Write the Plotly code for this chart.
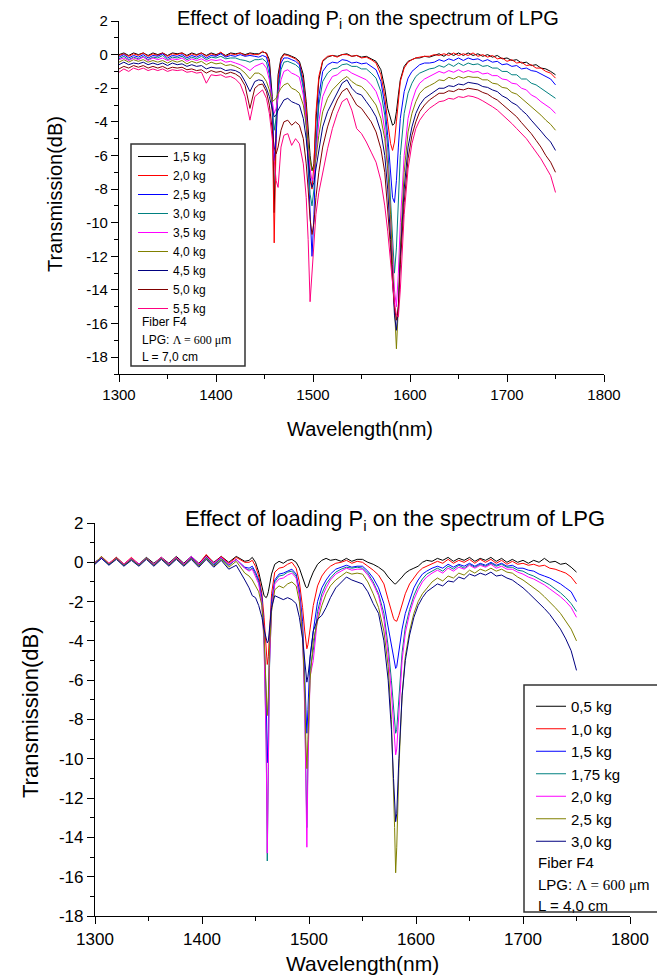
import plotly.graph_objects as go

# ---------------- top panel: L = 7,0 cm ----------------
WL_TOP = [1300, 1305, 1310, 1315, 1320, 1325, 1330, 1335, 1340, 1345, 1350, 1355, 1360, 1365, 1370,
          1375, 1380, 1385, 1390, 1395, 1400, 1405, 1410, 1415, 1420, 1425, 1430, 1435, 1440,
          1444, 1448, 1452, 1455, 1458, 1460, 1462, 1464, 1467, 1470, 1474, 1478, 1482, 1486, 1490,
          1493, 1495, 1497, 1499, 1501, 1503, 1506, 1510, 1515, 1520, 1525, 1530, 1535, 1540, 1545,
          1550, 1555, 1560, 1565, 1570, 1574, 1577, 1580, 1582, 1584, 1586, 1588, 1590, 1594, 1598,
          1602, 1606, 1610, 1615, 1620,
          1625, 1630, 1635, 1640, 1645, 1650, 1655, 1660, 1665, 1670, 1675, 1680, 1685, 1690, 1695,
          1700, 1705, 1710, 1715, 1720, 1725, 1730, 1735, 1740, 1745, 1750]

LOADS_TOP = ["1,5 kg", "2,0 kg", "2,5 kg", "3,0 kg", "3,5 kg", "4,0 kg", "4,5 kg", "5,0 kg", "5,5 kg"]

T_15 = [0.0, 0.1, -0.05, 0.1, 0.0, 0.1, -0.05, 0.1, 0.0, 0.1, -0.05, 0.1, 0.05, 0.1, -0.05, 0.1, 0.0, 0.1, -0.05, 0.1, 0.0, 0.1, -0.05, 0.1, 0.05, 0.1, 0.0, 0.1, 0.05,
        0.05, 0.15, 0.1, -0.3, -2.5, -9.4, -4.0, -1.2, -0.2, 0.05, 0.0, -0.1, -0.2, -0.4, -1.2, -2.8, -4.5, -6.0, -6.9, -6.5,
        -4.0, -1.5, -0.4, -0.15, -0.05, -0.1, 0.0, 0.05, -0.1, -0.05, -0.15, -0.1, -0.25, -0.4, -0.9, -2.0, -3.2, -3.9, -4.2, -4.1,
        -3.4, -2.4, -1.5, -0.7, -0.4, -0.3, -0.2, -0.2, -0.1, -0.15,
        -0.05, 0.05, -0.1, 0.1, -0.05, 0.1, -0.05, 0.1, -0.05, 0.05, -0.1, 0.0, -0.15, -0.05, -0.25, -0.2, -0.35, -0.3, -0.5, -0.45, -0.65, -0.6, -0.8, -0.85, -1.0, -1.2]
T_20 = [-0.05, 0.05, -0.1, 0.05, -0.05, 0.1, -0.1, 0.05, -0.05, 0.1, -0.1, 0.05, 0.0, 0.1, -0.1, 0.05, -0.05, 0.1, -0.1, 0.05, -0.05, 0.15, -0.1, 0.05, 0.0, 0.1, -0.05, 0.05, 0.0,
        0.0, 0.2, 0.05, -0.5, -3.5, -11.2, -5.0, -1.5, -0.3, 0.0, -0.05, -0.15, -0.25, -0.5, -1.5, -3.2, -5.2, -7.5, -8.0, -6.5,
        -3.5, -1.3, -0.35, -0.1, -0.05, -0.15, 0.0, 0.0, -0.1, -0.05, -0.2, -0.15, -0.3, -0.5, -1.2, -2.5, -4.0, -5.3, -5.7, -5.2,
        -4.0, -2.6, -1.6, -0.8, -0.45, -0.3, -0.2, -0.15, -0.1, -0.1,
        0.0, -0.05, 0.05, -0.05, 0.1, -0.05, 0.05, -0.05, 0.1, -0.1, 0.0, -0.15, -0.05, -0.25, -0.2, -0.4, -0.3, -0.5, -0.45, -0.65, -0.6, -0.8, -0.8, -1.0, -1.1, -1.4]
T_25 = [-0.15, 0.0, -0.2, -0.05, -0.15, 0.0, -0.2, -0.05, -0.1, 0.05, -0.2, -0.05, -0.1, 0.0, -0.2, -0.05, -0.15, 0.0, -0.2, -0.05, -0.1, 0.05, -0.15, -0.05, -0.1, 0.0, -0.1, -0.05, -0.1,
        -0.15, -0.05, -0.15, -0.8, -3.0, -6.3, -5.0, -2.0, -0.5, -0.2, -0.2, -0.3, -0.4, -0.6, -1.8, -4.0, -7.0, -10.0, -12.0, -9.5,
        -5.5, -2.5, -1.0, -0.6, -0.45, -0.5, -0.3, -0.35, -0.5, -0.45, -0.55, -0.5, -0.7, -0.9, -1.6, -3.0, -4.8, -7.0, -8.5, -8.8,
        -7.5, -5.5, -3.8, -2.2, -1.4, -1.0, -0.8, -0.6, -0.5, -0.5,
        -0.45, -0.3, -0.4, -0.25, -0.35, -0.2, -0.35, -0.2, -0.3, -0.25, -0.4, -0.3, -0.45, -0.4, -0.6, -0.55, -0.7, -0.65, -0.85, -0.8, -0.95, -1.0, -1.15, -1.3, -1.45, -1.8]
T_30 = [-0.25, -0.1, -0.3, -0.15, -0.25, -0.1, -0.3, -0.15, -0.2, -0.05, -0.3, -0.15, -0.2, -0.1, -0.3, -0.15, -0.25, -0.1, -0.3, -0.15, -0.2, -0.1, -0.25, -0.2, -0.2, -0.3, -0.35, -0.45, -0.3,
        -0.3, -0.25, -0.45, -1.2, -3.2, -4.5, -3.8, -2.2, -0.9, -0.45, -0.4, -0.5, -0.6, -0.8, -2.0, -4.2, -6.5, -8.3, -9.0, -8.0,
        -5.5, -3.0, -1.6, -1.1, -0.85, -0.8, -0.6, -0.55, -0.7, -0.7, -0.85, -0.85, -1.1, -1.4, -2.2, -3.6, -5.5, -8.5, -11.0, -13.0,
        -11.5, -8.5, -6.0, -3.5, -2.3, -1.7, -1.3, -1.1, -0.95, -0.85,
        -0.8, -0.65, -0.75, -0.55, -0.7, -0.5, -0.65, -0.5, -0.6, -0.55, -0.7, -0.65, -0.8, -0.8, -1.0, -1.0, -1.2, -1.2, -1.45, -1.45, -1.7, -1.8, -2.0, -2.2, -2.35, -2.6]
T_35 = [-0.3, -0.2, -0.35, -0.2, -0.3, -0.15, -0.35, -0.2, -0.3, -0.2, -0.35, -0.25, -0.3, -0.2, -0.4, -0.25, -0.35, -0.25, -0.4, -0.3, -0.35, -0.3, -0.45, -0.4, -0.5, -0.6, -0.75, -0.95, -0.7,
        -0.6, -0.5, -0.8, -1.5, -2.8, -3.5, -3.2, -2.5, -1.5, -1.0, -0.9, -1.1, -1.2, -1.35, -2.4, -4.0, -5.5, -6.8, -7.5, -7.3,
        -6.0, -4.0, -2.5, -1.8, -1.3, -1.2, -0.95, -0.9, -1.1, -1.25, -1.35, -1.5, -1.8, -2.2, -3.0, -4.5, -6.5, -9.5, -12.0, -14.0,
        -15.0, -13.0, -10.0, -6.0, -3.8, -2.8, -2.1, -1.7, -1.45, -1.3,
        -1.15, -1.0, -1.1, -0.95, -1.05, -0.9, -1.05, -0.95, -1.05, -1.0, -1.15, -1.1, -1.25, -1.25, -1.45, -1.5, -1.7, -1.75, -2.0, -2.1, -2.4, -2.55, -2.8, -3.0, -3.2, -3.5]
T_40 = [-0.45, -0.3, -0.45, -0.3, -0.4, -0.3, -0.45, -0.35, -0.45, -0.35, -0.5, -0.35, -0.45, -0.35, -0.55, -0.4, -0.5, -0.4, -0.6, -0.45, -0.55, -0.5, -0.65, -0.6, -0.7, -0.85, -1.1, -1.45, -1.1,
        -1.1, -1.25, -1.6, -2.1, -2.8, -2.7, -2.6, -2.3, -2.0, -1.8, -1.7, -2.0, -2.1, -2.3, -3.0, -4.2, -5.3, -6.3, -6.9, -6.8,
        -6.2, -4.8, -3.4, -2.6, -2.1, -1.8, -1.5, -1.3, -1.6, -1.8, -1.9, -2.2, -2.6, -3.0, -3.8, -5.0, -6.8, -9.5, -12.5, -15.5,
        -17.5, -15.0, -11.5, -7.0, -4.6, -3.5, -2.8, -2.3, -2.0, -1.85,
        -1.7, -1.5, -1.55, -1.35, -1.45, -1.3, -1.4, -1.3, -1.35, -1.35, -1.5, -1.5, -1.7, -1.75, -1.95, -2.0, -2.25, -2.35, -2.6, -2.8, -3.1, -3.3, -3.6, -3.9, -4.15, -4.5]
T_45 = [-0.6, -0.45, -0.6, -0.5, -0.55, -0.45, -0.6, -0.5, -0.6, -0.5, -0.65, -0.5, -0.6, -0.55, -0.7, -0.6, -0.7, -0.65, -0.85, -0.75, -0.8, -0.8, -0.95, -0.9, -0.95, -1.1, -1.6, -2.2, -1.6,
        -1.5, -1.55, -2.0, -2.5, -3.3, -3.7, -3.6, -3.3, -3.0, -2.7, -2.6, -2.8, -2.9, -3.0, -3.8, -5.0, -6.2, -7.3, -7.9, -7.6,
        -6.8, -5.6, -4.3, -3.4, -2.8, -2.2, -1.7, -1.5, -2.0, -2.3, -2.4, -2.8, -3.2, -3.7, -4.6, -6.0, -8.0, -11.0, -13.5, -15.5,
        -16.4, -15.0, -12.0, -8.0, -5.5, -4.3, -3.5, -3.0, -2.6, -2.4,
        -2.2, -2.0, -2.0, -1.85, -1.9, -1.75, -1.8, -1.65, -1.7, -1.75, -1.9, -1.95, -2.1, -2.2, -2.45, -2.6, -2.85, -3.0, -3.3, -3.55, -3.9, -4.2, -4.55, -4.9, -5.2, -5.7]
T_50 = [-0.85, -0.7, -0.8, -0.65, -0.75, -0.65, -0.8, -0.7, -0.8, -0.7, -0.85, -0.75, -0.8, -0.75, -0.9, -0.85, -0.95, -0.9, -1.1, -0.95, -1.05, -1.0, -1.15, -1.05, -1.15, -1.35, -1.85, -3.2, -2.0,
        -1.8, -1.75, -2.2, -3.0, -4.5, -5.5, -5.9, -5.5, -4.5, -4.0, -3.9, -4.2, -4.0, -4.2, -5.0, -6.5, -8.0, -9.8, -10.7, -10.0,
        -8.5, -7.0, -5.5, -4.3, -3.4, -2.7, -2.2, -2.0, -2.5, -3.0, -3.2, -3.6, -4.0, -4.6, -5.6, -7.0, -9.0, -11.5, -13.5, -15.0,
        -15.8, -15.0, -12.5, -8.8, -6.2, -4.8, -4.0, -3.4, -3.0, -2.7,
        -2.5, -2.3, -2.3, -2.15, -2.2, -2.05, -2.1, -2.0, -2.05, -2.1, -2.25, -2.35, -2.55, -2.7, -2.95, -3.2, -3.45, -3.7, -4.05, -4.35, -4.7, -5.1, -5.5, -6.0, -6.4, -7.0]
T_55 = [-1.05, -0.85, -1.0, -0.8, -0.9, -0.8, -0.95, -0.85, -0.95, -0.85, -1.0, -0.9, -0.95, -0.9, -1.05, -1.0, -1.1, -1.05, -1.7, -1.2, -1.25, -1.2, -1.35, -1.3, -1.45, -1.75, -2.5, -3.9, -2.5,
        -2.3, -2.1, -2.6, -3.5, -5.0, -6.5, -7.5, -7.9, -5.5, -4.8, -4.7, -5.4, -5.0, -5.3, -6.5, -8.5, -11.0, -14.7, -13.0, -11.0,
        -9.5, -8.2, -7.0, -5.6, -4.4, -3.5, -2.8, -2.6, -3.3, -4.4, -4.7, -5.2, -5.8, -6.4, -7.5, -9.0, -10.5, -12.5, -13.8, -14.8,
        -15.5, -15.6, -14.0, -9.5, -6.8, -5.3, -4.4, -3.9, -3.5, -3.2,
        -3.0, -2.8, -2.75, -2.6, -2.65, -2.5, -2.55, -2.45, -2.5, -2.6, -2.75, -2.9, -3.1, -3.3, -3.55, -3.8, -4.1, -4.4, -4.7, -5.0, -5.4, -5.8, -6.2, -6.7, -7.2, -8.2]

SERIES_TOP = [T_15, T_20, T_25, T_30, T_35, T_40, T_45, T_50, T_55]
COLORS_TOP = ["#000000", "#ff0000", "#0000ff", "#008080", "#ff00ff", "#808000", "#000080", "#800000", "#ff0080"]

# ---------------- bottom panel: L = 4,0 cm ----------------
WL_BOT = [1300, 1306, 1313, 1320, 1327, 1334, 1341, 1348, 1355, 1362, 1369, 1376, 1383, 1390, 1397,
          1404, 1411, 1418, 1425, 1432, 1440,
          1444, 1447, 1450, 1453, 1456, 1458, 1460, 1461, 1462, 1463, 1465, 1468, 1472, 1476, 1480,
          1484, 1488, 1491, 1494, 1496, 1497, 1498, 1499, 1501,
          1504, 1508, 1512, 1516, 1520, 1525, 1530, 1535, 1540, 1545, 1550, 1555, 1560, 1565, 1570,
          1574, 1577, 1579, 1580, 1581, 1582, 1584, 1587, 1590, 1594, 1598, 1602, 1606, 1610, 1615, 1620,
          1625, 1630, 1635, 1640, 1645, 1650, 1655, 1660, 1665, 1670, 1675, 1680, 1685, 1690, 1695,
          1700, 1705, 1710, 1715, 1720, 1725, 1730, 1735, 1740, 1745, 1750]

LOADS_BOT = ["0,5 kg", "1,0 kg", "1,5 kg", "1,75 kg", "2,0 kg", "2,5 kg", "3,0 kg"]

B_05 = [0.0, 0.25, -0.1, 0.25, -0.1, 0.2, -0.1, 0.25, -0.05, 0.25, -0.05, 0.3, -0.05, 0.3, -0.05, 0.35, 0.0, 0.3, 0.0, 0.3, 0.05,
        0.1, 0.25, 0.0, -0.5, -1.2, -1.7, -1.8, -1.7, -1.5, -1.2, -0.6, -0.1, 0.05, -0.05, 0.1, 0.15, 0.0, -0.3, -0.8, -1.1, -1.25, -1.3, -1.25, -0.9,
        -0.5, -0.1, 0.1, 0.2, 0.1, 0.15, 0.05, 0.2, 0.05, 0.15, 0.15, 0.0, -0.1, -0.25, -0.45, -0.75, -0.95, -1.05, -1.1, -1.1, -1.05, -0.95, -0.75, -0.55, -0.4, -0.3, -0.2, 0.0, 0.1, 0.05, 0.2,
        0.1, 0.25, 0.05, 0.2, 0.1, 0.25, 0.05, 0.2, 0.1, 0.25, 0.05, 0.2, 0.0, 0.15, 0.0, 0.1, -0.05, 0.1, 0.0, 0.2, 0.0, 0.05, -0.1, -0.05, -0.25, -0.5]
B_10 = [-0.05, 0.3, -0.05, 0.25, -0.1, 0.25, -0.1, 0.2, -0.1, 0.25, -0.1, 0.25, -0.1, 0.25, -0.1, 0.4, -0.05, 0.3, -0.05, 0.25, 0.0,
        0.0, 0.1, -0.2, -0.7, -1.6, -2.8, -4.5, -5.2, -4.8, -3.5, -1.6, -0.5, -0.3, -0.25, -0.1, 0.0, -0.3, -1.0, -2.3, -3.5, -4.1, -4.4, -4.2, -3.3,
        -2.2, -1.2, -0.7, -0.4, -0.2, -0.05, 0.0, 0.1, -0.05, 0.05, 0.0, -0.2, -0.4, -0.65, -1.1, -1.9, -2.5, -2.85, -2.95, -3.0, -3.0, -2.7, -2.1, -1.6, -1.1, -0.8, -0.5, -0.3, -0.2, -0.1, 0.05,
        -0.05, 0.15, -0.05, 0.1, 0.0, 0.15, -0.05, 0.15, 0.0, 0.15, -0.05, 0.1, -0.1, 0.05, -0.1, -0.05, -0.15, -0.1, -0.2, -0.15, -0.3, -0.35, -0.45, -0.55, -0.75, -1.1]
B_15 = [-0.05, 0.2, -0.1, 0.2, -0.15, 0.15, -0.1, 0.2, -0.15, 0.2, -0.1, 0.2, -0.1, 0.25, -0.15, 0.25, -0.15, 0.25, -0.15, 0.15, -0.25,
        -0.3, -0.2, -0.5, -0.9, -1.8, -3.5, -7.0, -10.2, -8.5, -4.5, -2.0, -0.9, -0.6, -0.55, -0.45, -0.35, -0.6, -1.4, -3.0, -5.5, -7.5, -8.7, -7.5, -4.8,
        -3.5, -2.0, -1.3, -0.9, -0.6, -0.35, -0.25, -0.15, -0.25, -0.2, -0.2, -0.45, -0.8, -1.3, -2.1, -3.3, -4.4, -5.0, -5.3, -5.4, -5.3, -4.6, -3.4, -2.6, -1.9, -1.3, -0.9, -0.6, -0.45, -0.3, -0.2,
        -0.3, -0.1, -0.25, -0.1, -0.2, -0.05, -0.2, -0.05, -0.15, 0.0, -0.15, -0.05, -0.2, -0.15, -0.3, -0.3, -0.4, -0.45, -0.6, -0.7, -0.8, -0.95, -1.1, -1.3, -1.5, -2.0]
B_175 = [0.0, 0.25, -0.1, 0.2, -0.15, 0.15, -0.15, 0.2, -0.1, 0.2, -0.15, 0.2, -0.15, 0.2, -0.15, 0.25, -0.1, 0.2, -0.15, 0.15, -0.3,
         -0.4, -0.3, -0.6, -1.0, -2.0, -4.0, -9.0, -15.2, -11.0, -5.5, -2.3, -1.0, -0.7, -0.65, -0.5, -0.45, -0.7, -1.6, -3.5, -7.0, -10.5, -13.5, -10.0, -5.5,
         -4.5, -2.5, -1.6, -1.1, -0.8, -0.5, -0.35, -0.25, -0.3, -0.25, -0.3, -0.55, -1.0, -1.6, -2.6, -4.3, -6.0, -7.5, -8.3, -8.7, -8.5, -6.8, -4.6, -3.3, -2.4, -1.7, -1.2, -0.85, -0.6, -0.45, -0.3,
         -0.45, -0.2, -0.35, -0.15, -0.3, -0.1, -0.25, -0.1, -0.2, -0.05, -0.2, -0.1, -0.25, -0.25, -0.4, -0.45, -0.6, -0.7, -0.85, -1.0, -1.15, -1.35, -1.55, -1.8, -2.1, -2.5]
B_20 = [0.0, 0.25, -0.05, 0.2, -0.1, 0.2, -0.1, 0.2, -0.1, 0.25, -0.1, 0.25, -0.1, 0.3, -0.1, 0.3, -0.05, 0.25, -0.1, 0.15, -0.3,
        -0.45, -0.35, -0.7, -1.1, -2.1, -4.2, -9.5, -14.8, -10.5, -5.3, -2.4, -1.1, -0.85, -0.8, -0.65, -0.55, -0.8, -1.7, -3.7, -7.5, -11.0, -14.5, -10.5, -5.8,
        -5.0, -2.8, -1.8, -1.3, -0.9, -0.6, -0.45, -0.3, -0.4, -0.35, -0.35, -0.65, -1.1, -1.7, -2.9, -4.7, -6.6, -8.3, -9.2, -9.8, -9.5, -7.5, -5.0, -3.6, -2.6, -1.9, -1.4, -1.0, -0.75, -0.55, -0.4,
        -0.55, -0.3, -0.45, -0.25, -0.35, -0.15, -0.3, -0.15, -0.25, -0.1, -0.3, -0.2, -0.35, -0.35, -0.5, -0.6, -0.75, -0.85, -1.0, -1.15, -1.35, -1.55, -1.75, -2.0, -2.3, -2.8]
B_25 = [-0.05, 0.3, -0.1, 0.2, -0.15, 0.15, -0.15, 0.2, -0.15, 0.2, -0.15, 0.2, -0.15, 0.2, -0.2, 0.2, -0.2, 0.15, -0.25, 0.05, -0.55,
        -0.7, -0.9, -1.2, -1.5, -2.2, -3.8, -6.5, -7.8, -6.8, -4.5, -2.5, -1.4, -1.2, -1.3, -1.1, -1.0, -1.2, -2.0, -3.8, -6.5, -9.0, -10.5, -9.0, -6.0,
        -4.0, -3.0, -2.2, -1.6, -1.2, -0.9, -0.7, -0.5, -0.6, -0.55, -0.6, -1.0, -1.6, -2.3, -3.5, -5.3, -8.0, -11.0, -13.5, -15.8, -14.5, -10.5, -6.8, -4.8, -3.5, -2.6, -2.0, -1.6, -1.35, -1.0, -0.8,
        -0.95, -0.7, -0.8, -0.55, -0.65, -0.4, -0.55, -0.35, -0.45, -0.3, -0.45, -0.35, -0.5, -0.55, -0.75, -0.9, -1.1, -1.3, -1.5, -1.75, -2.0, -2.3, -2.6, -3.0, -3.4, -4.0]
B_30 = [-0.1, 0.2, -0.15, 0.15, -0.2, 0.1, -0.2, 0.15, -0.2, 0.15, -0.2, 0.15, -0.2, 0.15, -0.25, 0.15, -0.25, 0.1, -0.35, -0.15, -0.9,
        -1.3, -1.7, -1.8, -2.2, -2.8, -3.4, -3.9, -4.1, -4.0, -3.4, -2.3, -1.7, -1.8, -1.9, -1.8, -1.9, -2.1, -2.8, -3.9, -5.2, -5.8, -6.1, -5.8, -4.8,
        -3.5, -2.9, -2.7, -2.3, -1.8, -1.3, -1.0, -0.75, -0.9, -1.0, -1.1, -1.5, -2.1, -2.6, -4.0, -6.0, -8.5, -11.0, -12.5, -13.2, -12.8, -10.0, -6.8, -5.0, -3.7, -2.8, -2.2, -1.8, -1.5, -1.3, -1.1,
        -1.2, -0.95, -1.0, -0.75, -0.85, -0.6, -0.7, -0.55, -0.65, -0.5, -0.7, -0.65, -0.8, -0.9, -1.1, -1.3, -1.55, -1.8, -2.05, -2.35, -2.65, -3.0, -3.4, -3.9, -4.5, -5.5]

SERIES_BOT = [B_05, B_10, B_15, B_175, B_20, B_25, B_30]
COLORS_BOT = ["#000000", "#ff0000", "#0000ff", "#008080", "#ff00ff", "#808000", "#000080"]

X_TICKS = [1300, 1400, 1500, 1600, 1700, 1800]
Y_TICKS = [2, 0, -2, -4, -6, -8, -10, -12, -14, -16, -18]
Y_LABELS = ["2", "0", "-2", "-4", "-6", "-8", "-10", "-12", "-14", "-16", "-18"]

for s in SERIES_TOP:
    assert len(s) == len(WL_TOP)
for s in SERIES_BOT:
    assert len(s) == len(WL_BOT)

FONT = "Liberation Sans, Arial, sans-serif"
W, H = 665, 979
OFF = 8  # the page body margin shifts the figure by this much


def px(x):
    return (x - OFF) / W


def py(y):
    return 1 - (y - OFF) / H


fig = go.Figure()

for name, vals, col in zip(LOADS_TOP, SERIES_TOP, COLORS_TOP):
    fig.add_trace(go.Scatter(x=WL_TOP, y=vals, mode="lines", name=name,
                             line=dict(color=col, width=1), xaxis="x", yaxis="y", legend="legend"))

for name, vals, col in zip(LOADS_BOT, SERIES_BOT, COLORS_BOT):
    fig.add_trace(go.Scatter(x=WL_BOT, y=vals, mode="lines", name=name,
                             line=dict(color=col, width=1), xaxis="x2", yaxis="y2", legend="legend2"))


def xax(domain, anchor, tsize):
    return dict(domain=domain, anchor=anchor, range=[1300, 1800], tickmode="array", tickvals=X_TICKS,
                showline=True, linecolor="black", linewidth=1.2, ticks="outside", ticklen=7,
                tickwidth=1.2, tickcolor="black", showgrid=False, zeroline=False, automargin=False,
                tickfont=dict(size=tsize, color="black"),
                minor=dict(tickmode="linear", tick0=1300, dtick=50, ticks="outside", ticklen=4,
                           tickcolor="black", showgrid=False))


def yax(domain, anchor, yrange, tsize):
    return dict(domain=domain, anchor=anchor, range=yrange, tickmode="array", tickvals=Y_TICKS,
                ticktext=Y_LABELS, showline=True, linecolor="black", linewidth=1.2, ticks="outside",
                ticklen=7, tickwidth=1.2, tickcolor="black", showgrid=False, zeroline=False,
                automargin=False, tickfont=dict(size=tsize, color="black"),
                minor=dict(tickmode="linear", tick0=1, dtick=1, ticks="outside", ticklen=4,
                           tickcolor="black", showgrid=False))


fig.update_layout(
    width=W, height=H,
    margin=dict(l=0, r=0, t=0, b=0, autoexpand=False),
    paper_bgcolor="white", plot_bgcolor="white",
    font=dict(family=FONT, color="black"),
    xaxis=xax([px(119), px(604)], "y", 15),
    yaxis=yax([py(374), py(21)], "x", [-19, 2], 15),
    xaxis2=xax([px(95), px(630)], "y2", 17),
    yaxis2=yax([py(916), py(523)], "x2", [-18, 2], 17),
    legend=dict(x=px(133), y=py(142), xanchor="left", yanchor="top", bgcolor="rgba(0,0,0,0)",
                borderwidth=0, font=dict(size=12, color="black"), itemwidth=30, tracegroupgap=0),
    legend2=dict(x=px(531), y=py(690), xanchor="left", yanchor="top", bgcolor="rgba(0,0,0,0)",
                 borderwidth=0, font=dict(size=15, color="black"), itemwidth=30, tracegroupgap=0),
    showlegend=True,
)

title = "Effect of loading P<sub>i</sub> on the spectrum of LPG"
lam = "<span style='font-family:Liberation Serif'>&#923; = 600 &#956;</span>m"
notes = [
    (title, px(368), py(20), 20, "center", 0),
    (title, px(395), py(520), 22, "center", 0),
    ("Wavelength(nm)", px(360), py(429), 20, "center", 0),
    ("Wavelength(nm)", px(362), py(963), 21, "center", 0),
    ("Transmission(dB)", px(55), py(194), 20, "center", -90),
    ("Transmission(dB)", px(30), py(712), 22, "center", -90),
    ("Fiber F4", px(140), py(322), 12, "left", 0),
    ("LPG: " + lam, px(140), py(340), 12, "left", 0),
    ("L = 7,0 cm", px(140), py(357), 12, "left", 0),
    ("Fiber F4", px(536), py(862), 15, "left", 0),
    ("LPG: " + lam, px(536), py(884), 15, "left", 0),
    ("L = 4,0 cm", px(536), py(905), 15, "left", 0),
]
for text, x, y, size, anchor, angle in notes:
    fig.add_annotation(text=text, x=x, y=y, xref="paper", yref="paper", xanchor=anchor,
                       yanchor="middle", showarrow=False, textangle=angle,
                       font=dict(size=size, color="black"))

# legend frames
fig.add_shape(type="rect", xref="paper", yref="paper", x0=px(131), x1=px(245), y0=py(366), y1=py(144),
              line=dict(color="#333333", width=1.5))
fig.add_shape(type="rect", xref="paper", yref="paper", x0=px(524), x1=1.02, y0=py(912), y1=py(685),
              line=dict(color="#333333", width=1.5))

fig.write_html("out.html")
